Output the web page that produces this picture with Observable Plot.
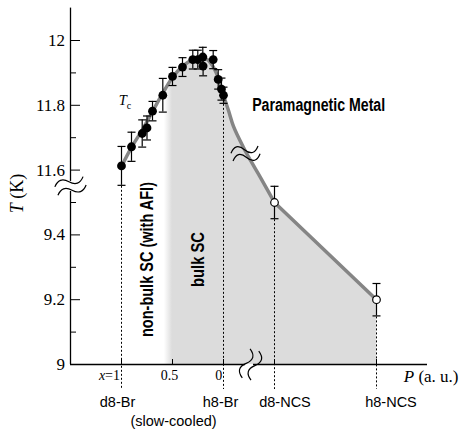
<!DOCTYPE html>
<html><head><meta charset="utf-8">
<script src="https://cdn.jsdelivr.net/npm/d3@7"></script>
<script src="https://cdn.jsdelivr.net/npm/@observablehq/plot@0.6"></script>
<style>html,body{margin:0;padding:0;background:#fff;} svg{display:block;}</style>
</head><body><div id="chart"></div>
<script>
// ---- data ----
// Br-salt points (filled): position P (a.u., 0 = d8-Br ... 1 = h8-Br), Tc (K), error (K)
const brP   = [0, 0.098, 0.203, 0.25, 0.304, 0.405, 0.5, 0.598, 0.699, 0.748, 0.797, 0.80, 0.899, 0.948, 0.98, 1.0];
const brT   = [11.613, 11.672, 11.713, 11.730, 11.782, 11.831, 11.889, 11.918, 11.941, 11.941, 11.949, 11.921, 11.941, 11.880, 11.850, 11.831];
const brErr = [0.060, 0.045, 0.042, 0.037, 0.030, 0.052, 0.028, 0.029, 0.029, 0.029, 0.030, 0.030, 0.028, 0.030, 0.034, 0.025];
// NCS-salt points (open)
const ncsP   = [1.5, 2.5];
const ncsT   = [9.50, 9.20];
const ncsErr = [0.05, 0.05];
// guide curve (gray)
const curveP = [0, 0.098, 0.206, 0.304, 0.402, 0.5, 0.598, 0.696, 0.775, 0.843, 0.902, 0.951, 1.0, 1.049, 1.098, 1.196, 1.265, 1.363, 1.5, 2.5];
const curveT = [11.611, 11.670, 11.725, 11.781, 11.836, 11.886, 11.920, 11.941, 11.948, 11.941, 11.917, 11.883, 11.830, 11.784, 11.735, 11.670, 11.630, 9.577, 9.50, 9.20];
// samples
const sampleNames = ["d8-Br", "h8-Br", "d8-NCS", "h8-NCS"];
const sampleP = [0, 1, 1.5, 2.5];
// axis ticks
const yMajor = [9, 9.2, 9.4, 11.6, 11.8, 12];
const yMajorLabels = ["9", "9.2", "9.4", "11.6", "11.8", "12"];
const yMinor = [9.1, 9.3, 9.5, 11.7, 11.9];
const xTicks = [0, 0.5, 1, 1.5, 2.5];
const xTickLabels = ["x=1", "0.5", "0"];
const xTickLabelP = [0, 0.5, 1];

// ---- helpers ----
const ty = T => (T > 10.5 ? T - 2 : T);   // broken T axis: 11.6 K sits where 9.6 K would be
const br = brP.map((p, i) => ({p, T: brT[i], e: brErr[i]}));
const ncs = ncsP.map((p, i) => ({p, T: ncsT[i], e: ncsErr[i]}));
const allPts = br.concat(ncs);
const curve = curveP.map((p, i) => ({p, T: curveT[i]}));
const samples = sampleNames.map((name, i) => {
  const pt = allPts.find(d => d.p === sampleP[i]);
  return {name, p: sampleP[i], T: pt.T, e: pt.e};
});

const W = 459, H = 433, ML = 70, MR = 32, MT = 7.6, MB = 69;
const plotW = W - ML - MR, plotH = H - MT - MB;
const SERIF = "Liberation Serif, Times New Roman, serif";
const SANS = "Liberation Sans, Arial, Helvetica, sans-serif";

const cap = {draw(ctx, size) { const r = Math.sqrt(size / Math.PI); ctx.moveTo(-r, 0); ctx.lineTo(r, 0); }};
function breakSymbol(angle, w, a, gap) {
  const th = angle * Math.PI / 180, c = Math.cos(th), s = Math.sin(th);
  return {draw(ctx) {
    for (const off of [-gap / 2, gap / 2]) {
      const P = (x, y) => { y += off; return [x * c - y * s, x * s + y * c]; };
      ctx.moveTo(...P(-w / 2, 0));
      ctx.bezierCurveTo(...P(-w / 3, -a * 1.6), ...P(-w / 6, -a * 1.6), ...P(0, 0));
      ctx.bezierCurveTo(...P(w / 6, a * 1.6), ...P(w / 3, a * 1.6), ...P(w / 2, 0));
    }
  }};
}

const xLabelOffsets = [{dx: -1.5, anchor: "end"}, {dx: -3, anchor: "middle"}, {dx: -1.3, anchor: "end"}];
const sampleOffsets = [-4, -3, 10.5, 14.5];

const svg = Plot.plot({
  width: W, height: H,
  marginLeft: ML, marginRight: MR, marginTop: MT, marginBottom: MB,
  x: {domain: [-0.5, 3.0], axis: null},
  y: {domain: [9, 10.1], axis: null},
  marks: [
    // shaded bulk-SC / metal region
    Plot.areaY(curve.filter(d => d.p >= 0.4), {x: "p", y1: 9, y2: d => ty(d.T), fill: "url(#shadeGrad)", curve: "linear"}),
    // dashed sample guides
    Plot.ruleX(samples, {x: "p", y1: d => ty(d.T - d.e), y2: 9, insetTop: 1, insetBottom: -25, stroke: "black", strokeWidth: 1, strokeDasharray: "2,2"}),
    // axes (with breaks)
    Plot.ruleX([-0.5], {y1: 10.1, y2: 9.565, stroke: "black", strokeWidth: 1.3}),
    Plot.ruleX([-0.5], {y1: 9.534, y2: 9, stroke: "black", strokeWidth: 1.3}),
    Plot.ruleY([9], {x1: -0.5, x2: 1.216, stroke: "black", strokeWidth: 1.3}),
    Plot.ruleY([9], {x1: 1.294, x2: 3.0, stroke: "black", strokeWidth: 1.3}),
    Plot.ruleY(yMajor, {y: ty, insetRight: plotW - 10, stroke: "black", strokeWidth: 1}),
    Plot.ruleY(yMinor, {y: ty, insetRight: plotW - 6, stroke: "black", strokeWidth: 1}),
    Plot.ruleX(xTicks, {insetTop: plotH - 5, stroke: "black", strokeWidth: 1}),
    // break marks
    Plot.dot([0], {x: -0.5, y: 9.551, symbol: breakSymbol(-20, 30, 3.5, 9), r: 4, fill: "none", stroke: "black", strokeWidth: 1.2}),
    Plot.dot([0], {x: 1.265, y: 9, symbol: breakSymbol(105, 30, 4, 9), r: 4, fill: "none", stroke: "black", strokeWidth: 1.2}),
    // guide curve
    Plot.line(curve.filter(d => d.p <= 1.5), {x: "p", y: d => ty(d.T), curve: "catmull-rom", stroke: "#858585", strokeWidth: 3.5, strokeLinecap: "round"}),
    Plot.line(curve.filter(d => d.p >= 1.5), {x: "p", y: d => ty(d.T), curve: "linear", stroke: "#858585", strokeWidth: 3.5, strokeLinecap: "round"}),
    Plot.dot([0], {x: 1.216, y: ty(11.651), symbol: breakSymbol(-15, 28, 4, 8), r: 4, fill: "none", stroke: "black", strokeWidth: 1.2}),
    // error bars
    Plot.ruleX(allPts, {x: "p", y1: d => ty(d.T - d.e), y2: d => ty(d.T + d.e), stroke: "black", strokeWidth: 1.2}),
    Plot.dot(allPts, {x: "p", y: d => ty(d.T - d.e), symbol: cap, r: 4, fill: "none", stroke: "black", strokeWidth: 1.2}),
    Plot.dot(allPts, {x: "p", y: d => ty(d.T + d.e), symbol: cap, r: 4, fill: "none", stroke: "black", strokeWidth: 1.2}),
    // points
    Plot.dot(br, {x: "p", y: d => ty(d.T), r: 4.4, fill: "black", stroke: "none"}),
    Plot.dot(ncs, {x: "p", y: d => ty(d.T), r: 3.8, fill: "white", stroke: "black", strokeWidth: 1.2}),
    // y tick labels
    Plot.text(yMajor, {y: ty, text: (d, i) => yMajorLabels[i], frameAnchor: "left", dx: -5.5, textAnchor: "end", lineAnchor: "middle", fontFamily: SERIF, fontSize: 17, fill: "black"}),
    // x tick labels
    ...xTickLabelP.map((p, i) => Plot.text([xTickLabels[i]], {x: p, text: d => d, frameAnchor: "bottom", lineAnchor: "middle", dy: 11.5, dx: xLabelOffsets[i].dx, textAnchor: xLabelOffsets[i].anchor, fontFamily: SERIF, fontSize: 14, fill: "black"})),
    // sample labels
    ...samples.map((s, i) => Plot.text([s.name], {x: s.p, text: d => d, frameAnchor: "bottom", lineAnchor: "middle", textAnchor: "middle", dy: 37.7, dx: sampleOffsets[i], fontFamily: SANS, fontSize: 14.5, fill: "black"})),
    Plot.text(["(slow-cooled)"], {x: 0.5, text: d => d, frameAnchor: "bottom", lineAnchor: "middle", textAnchor: "middle", dy: 57, dx: 1, fontFamily: SANS, fontSize: 14.5, fill: "black"}),
    // axis titles
    Plot.text(["P (a. u.)"], {frameAnchor: "bottom-right", lineAnchor: "middle", text: d => d, dx: 31, dy: 12, textAnchor: "end", fontFamily: SERIF, fontSize: 17, fill: "black"}),
    Plot.text(["T (K)"], {frameAnchor: "left", y: 9.528, text: d => d, dx: -53, rotate: -90, textAnchor: "middle", lineAnchor: "middle", fontFamily: SERIF, fontSize: 18, fill: "black"}),
    // annotations
    Plot.text(["Tc"], {x: -0.027, y: ty(11.816), text: d => d, textAnchor: "start", fontFamily: SERIF, fontSize: 14.5, fill: "black"}),
    Plot.text(["Paramagnetic Metal"], {x: 1.281, y: ty(11.8006), text: d => d, textAnchor: "start", fontFamily: SANS, fontWeight: "bold", fontSize: 17.5, fill: "black"}),
    Plot.text(["non-bulk SC (with AFI)"], {x: 0.252, y: 9.324, text: d => d, rotate: -90, fontFamily: SANS, fontWeight: "bold", fontSize: 17.5, fill: "black"}),
    Plot.text(["bulk SC"], {x: 0.758, y: 9.324, text: d => d, rotate: -90, fontFamily: SANS, fontWeight: "bold", fontSize: 17.5, fill: "black"})
  ]
});

// gradient for the soft left edge of the shaded region
const xs = svg.scale("x");
const defs = d3.select(svg).insert("defs", ":first-child");
const g = defs.append("linearGradient").attr("id", "shadeGrad").attr("gradientUnits", "userSpaceOnUse")
  .attr("x1", xs.apply(0.42)).attr("x2", xs.apply(0.5)).attr("y1", 0).attr("y2", 0);
g.append("stop").attr("offset", 0).attr("stop-color", "#dcdcdc").attr("stop-opacity", 0);
g.append("stop").attr("offset", 1).attr("stop-color", "#dcdcdc").attr("stop-opacity", 1);

// rich text (italics, subscript) and condensed bold labels
function rich(match, parts) {
  d3.select(svg).selectAll("text").filter(function() { return this.textContent === match; }).each(function() {
    const t = d3.select(this); t.text(null);
    for (const p of parts) {
      const ts = t.append("tspan").text(p.t);
      if (p.italic) ts.attr("font-style", "italic");
      if (p.size) ts.attr("font-size", p.size);
      if (p.dy) ts.attr("dy", p.dy);
    }
  });
}
rich("x=1", [{t: "x", italic: true}, {t: "=1"}]);
rich("P (a. u.)", [{t: "P", italic: true}, {t: " (a. u.)"}]);
rich("T (K)", [{t: "T", italic: true}, {t: " (K)"}]);
rich("Tc", [{t: "T", italic: true}, {t: "c", size: 10, dy: 4}]);
const lengths = {"Paramagnetic Metal": 133, "non-bulk SC (with AFI)": 155, "bulk SC": 55};
d3.select(svg).selectAll("text").each(function() {
  const L = lengths[this.textContent];
  if (L) d3.select(this).attr("textLength", L).attr("lengthAdjust", "spacingAndGlyphs");
});

document.getElementById("chart").appendChild(svg);
</script>
</body></html>
